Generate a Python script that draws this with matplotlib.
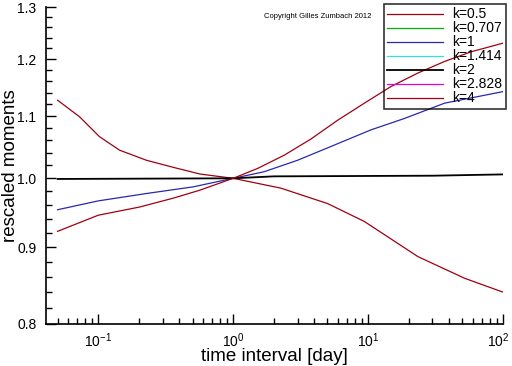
import matplotlib
matplotlib.use('Agg')
import matplotlib.pyplot as plt
import matplotlib.transforms as mtransforms
from matplotlib.ticker import FixedLocator, FormatStrFormatter, LogLocator

plt.rcParams['font.family'] = ['Liberation Sans', 'DejaVu Sans']
plt.rcParams['mathtext.fontset'] = 'custom'
plt.rcParams['mathtext.rm'] = 'Liberation Sans'
plt.rcParams['mathtext.it'] = 'Liberation Sans:italic'
plt.rcParams['mathtext.bf'] = 'Liberation Sans:bold'

# curves (time interval in days, rescaled moment)
k05_x = [0.05, 0.0726, 0.102, 0.144, 0.228, 0.359, 0.567, 1.0, 2.26, 5.02, 9.39, 23.4, 52, 100]
k05_y = [1.127, 1.099, 1.066, 1.044, 1.028, 1.017, 1.0066, 1.0, 0.985, 0.962, 0.936, 0.887, 0.858, 0.840]

k1_x = [0.05, 0.1, 0.228, 0.506, 1.0, 1.69, 3.0, 5.31, 10.5, 18.6, 36.9, 100]
k1_y = [0.953, 0.966, 0.977, 0.987, 1.0, 1.010, 1.028, 1.050, 1.077, 1.096, 1.122, 1.142]

k2_x = [0.05, 1.0, 2.0, 30, 100]
k2_y = [0.999, 1.0, 1.003, 1.004, 1.006]

k4_x = [0.05, 0.1, 0.203, 0.359, 0.567, 1.0, 1.51, 2.39, 3.77, 5.95, 9.39, 14.8, 23.4, 36.9, 58.3, 100]
k4_y = [0.922, 0.945, 0.957, 0.970, 0.982, 1.0, 1.015, 1.036, 1.062, 1.093, 1.122, 1.151, 1.175, 1.196, 1.214, 1.230]

# k=0.707, 1.414, 2.828 only show up in the legend
series = [
    ('k=0.5', k05_x, k05_y, '#a00010'),
    ('k=0.707', [], [], '#00b000'),
    ('k=1', k1_x, k1_y, '#2828b0'),
    ('k=1.414', [], [], '#30e0e0'),
    ('k=2', k2_x, k2_y, 'black'),
    ('k=2.828', [], [], '#e000e0'),
    ('k=4', k4_x, k4_y, '#a00010'),
]

xticks = [0.1, 1, 10, 100]
yticks = [0.8, 0.9, 1.0, 1.1, 1.2, 1.3]
yminor = [0.82, 0.84, 0.86, 0.88, 0.92, 0.94, 0.96, 0.98, 1.02, 1.04, 1.06, 1.08,
          1.12, 1.14, 1.16, 1.18, 1.22, 1.24, 1.26, 1.28]

fig = plt.figure(figsize=(5.12, 3.66), dpi=100)
ax = fig.add_axes([0.0898, 0.1148, 0.8926, 0.866])

for lab, xs, ys, col in series:
    lw = 1.3 if col == 'black' else 0.9
    ax.plot(xs, ys, color=col, linewidth=lw, label=lab)

ax.set_xscale('log')
ax.set_yscale('log')
ax.set_xlim(0.041, 100)
ax.set_ylim(0.8, 1.3)

ax.yaxis.set_major_locator(FixedLocator(yticks))
ax.yaxis.set_minor_locator(FixedLocator(yminor))
ax.yaxis.set_major_formatter(FormatStrFormatter('%.1f'))
ax.yaxis.set_minor_formatter(plt.NullFormatter())
ax.xaxis.set_major_locator(FixedLocator(xticks))
ax.xaxis.set_minor_locator(LogLocator(base=10, subs=[2, 3, 4, 5, 6, 7, 8, 9]))

ax.tick_params(which='both', direction='in', top=False, right=False, labelsize=10, width=1)
ax.tick_params(which='major', length=7)
ax.tick_params(which='minor', length=4)
ax.tick_params(axis='y', pad=7)
ax.tick_params(axis='x', pad=5)

ax.spines['top'].set_visible(False)
ax.spines['right'].set_visible(False)
ax.spines['left'].set_linewidth(1.2)
ax.spines['bottom'].set_linewidth(1.2)

ax.set_xlabel('time interval [day]', fontsize=13.5)
ax.set_ylabel('rescaled moments', fontsize=13.5, va='center')
ax.xaxis.set_label_coords(0.5, -0.075)
ax.yaxis.set_label_coords(-0.078, 0.5)

leg = fig.legend(loc='upper right', bbox_to_anchor=(0.988, 0.989), fontsize=10,
                 frameon=True, fancybox=False, edgecolor='black', facecolor='none',
                 borderaxespad=0, borderpad=0.25, handlelength=4.0, handletextpad=0.7,
                 labelspacing=0.0)
leg.get_frame().set_linewidth(1.2)
leg.set_zorder(0)

fig.text(0.621, 0.956, 'Copyright Gilles Zumbach 2012', fontsize=5.5, ha='center', va='center')

# nudge the 10^2 label left so it stays inside the figure
fig.canvas.draw()
last = ax.xaxis.get_major_ticks()[-1].label1
last.set_transform(last.get_transform() + mtransforms.ScaledTranslation(-5 / 100, 0, fig.dpi_scale_trans))

fig.savefig('out.png', dpi=100)
